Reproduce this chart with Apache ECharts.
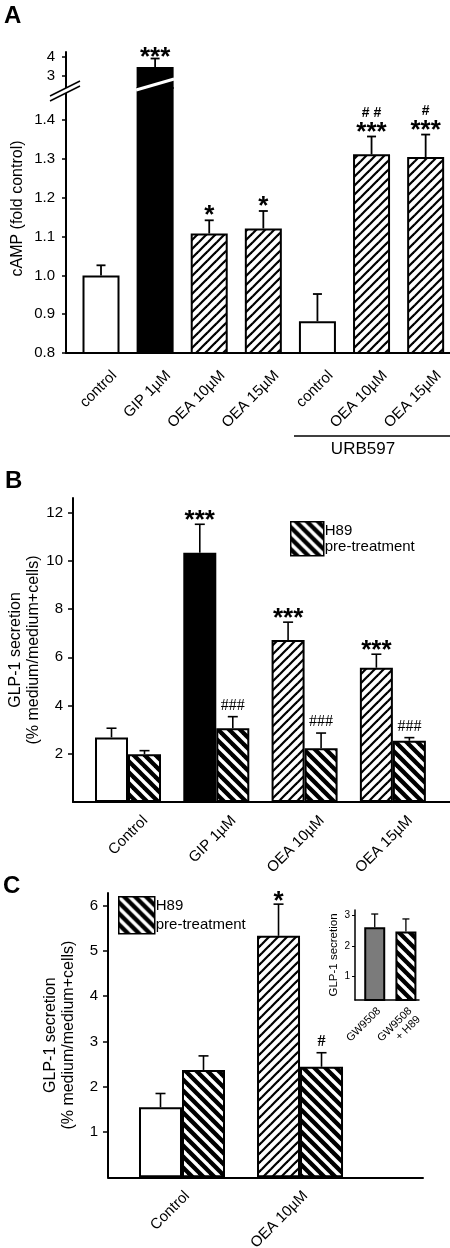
<!DOCTYPE html>
<html><head><meta charset="utf-8">
<script src="https://cdn.jsdelivr.net/npm/echarts@6/dist/echarts.min.js"></script>
<style>html,body{margin:0;padding:0;background:#fff}#c{width:450px;height:1248px}</style>
</head><body><div id="c"></div>
<script>
// ---------- Panel A data ----------
const catsA = ['control', 'GIP 1µM', 'OEA 10µM', 'OEA 15µM', 'control', 'OEA 10µM', 'OEA 15µM'];
const meanA = [1.000, 3.47, 1.108, 1.121, 0.882, 1.312, 1.305];
const errTopA = [1.026, 3.92, 1.142, 1.166, 0.952, 1.358, 1.363];
const starsA = ['', '***', '*', '*', '', '***', '***'];
const hashA = ['', '', '', '', '', '##', '#'];
const ticksAlow = [0.8, 0.9, 1.0, 1.1, 1.2, 1.3, 1.4];
const ticksAhigh = [3, 4];
const groupLabelA = 'URB597';
const titleA = 'cAMP (fold control)';

// ---------- Panel B data ----------
const catsB = ['Control', 'GIP 1µM', 'OEA 10µM', 'OEA 15µM'];
const meanB = [2.68, 10.34, 6.72, 5.57];
const errTopB = [3.06, 11.52, 7.46, 6.13];
const meanBH = [1.98, 3.06, 2.23, 2.54];
const errTopBH = [2.13, 3.54, 2.86, 2.67];
const starsB = ['', '***', '***', '***'];
const hashBH = ['', '###', '###', '###'];
const ticksB = [2, 4, 6, 8, 10, 12];

// ---------- Panel C data ----------
const catsC = ['Control', 'OEA 10µM'];
const meanC = [1.545, 5.33];
const errTopC = [1.85, 6.03];
const meanCH = [2.37, 2.44];
const errTopCH = [2.68, 2.75];
const starsC = ['', '*'];
const hashCH = ['', '#'];
const ticksC = [1, 2, 3, 4, 5, 6];

// ---------- Inset data ----------
const catsI = ['GW9508', 'GW9508\n+ H89'];
const meanI = [2.60, 2.46];
const errTopI = [3.03, 2.87];
const ticksI = [1, 2, 3];

const titleGLP = 'GLP-1 secretion\n(% medium/medium+cells)';
const titleInset = 'GLP-1 secretion';
const legendName = 'H89 pre-treatment';
const legendText = 'H89\npre-treatment';

// ---------- styles ----------
const FONT = 'Liberation Sans, Arial, sans-serif';
const SERIF = 'Liberation Serif, serif';
function stripes(dir, P, w, fg, bg) {
  const c = document.createElement('canvas'); c.width = P; c.height = P;
  const g = c.getContext('2d');
  g.fillStyle = bg; g.fillRect(0, 0, P, P);
  g.strokeStyle = fg; g.lineWidth = w;
  for (let k = -1; k <= 1; k++) {
    g.beginPath();
    if (dir === '/') { g.moveTo(k * P - P, 2 * P); g.lineTo(k * P + 2 * P, -P); }
    else { g.moveTo(k * P - P, -P); g.lineTo(k * P + 2 * P, 2 * P); }
    g.stroke();
  }
  return { image: c, repeat: 'repeat' };
}
const OEA = stripes('/', 9, 2.2, '#000', '#fff');
const H89 = stripes('\\', 11, 3.4, '#fff', '#000');
const FILL = { white: '#fff', black: '#000', oea: OEA, h89: H89, grey: '#7b7b7b' };
const fillA = ['white', 'black', 'oea', 'oea', 'white', 'oea', 'oea'];
const fillB = ['white', 'black', 'oea', 'oea'];
const fillC = ['white', 'oea'];
const fillI = ['grey', 'h89'];

const A_HI_MIN = 2.368, A_HI_MAX = 4.263, A_LO_MIN = 0.8, A_LO_MAX = 1.483;

const barStyle = { borderColor: '#000', borderWidth: 2 };
function barData(means, fills, keep) {
  return means.map((v, i) => ({
    value: [i, keep && !keep(i) ? '-' : v],
    itemStyle: Object.assign({ color: FILL[fills[i]] }, barStyle)
  }));
}

function errSeries(xi, yi, means, tops, offset, cap, lw, labels, show) {
  return {
    type: 'custom', xAxisIndex: xi, yAxisIndex: yi, clip: false, z: 5, silent: true,
    data: means.map((m, i) => [i, m, tops[i]]),
    encode: { x: 0, y: [1, 2] },
    renderItem: function (params, api) {
      const i = params.dataIndex;
      if (show && !show(i)) return;
      const p0 = api.coord([i, means[i]]);
      const p1 = api.coord([i, tops[i]]);
      const x = p0[0] + offset;
      const ch = [
        { type: 'line', shape: { x1: x, y1: p0[1], x2: x, y2: p1[1] }, style: { stroke: '#000', lineWidth: lw } },
        { type: 'line', shape: { x1: x - cap, y1: p1[1], x2: x + cap, y2: p1[1] }, style: { stroke: '#000', lineWidth: lw } }
      ];
      (labels || []).forEach(L => {
        let t = L.arr[i];
        if (t && L.spaced) t = t.split('').join(' ');
        if (t) ch.push({ type: 'text', x: x, y: p1[1] + L.dy, style: {
          text: t, fill: '#000', fontSize: L.size, fontFamily: L.family || FONT, fontWeight: L.weight || 'normal',
          align: 'center', verticalAlign: 'middle' } });
      });
      return { type: 'group', children: ch };
    }
  };
}

const starLab = (arr, dy) => ({ arr, dy, size: 26, weight: 'bold' });

const chart = echarts.init(document.getElementById('c'), null, { renderer: 'canvas' });

const yBase = (extra) => Object.assign({
  type: 'value', splitLine: { show: false },
  axisLine: { show: true, onZero: false, lineStyle: { color: '#000', width: 2 } },
  axisTick: { show: true, length: 4, lineStyle: { color: '#000', width: 1.5 } },
  axisLabel: { color: '#000', fontSize: 15, fontFamily: FONT, margin: 10 },
  nameLocation: 'middle', nameRotate: 90, nameMoveOverlap: false,
  nameTextStyle: { color: '#000', fontSize: 16, fontFamily: FONT }
}, extra);
const xBase = (extra) => Object.assign({
  type: 'value', splitLine: { show: false },
  axisLine: { show: true, onZero: false, lineStyle: { color: '#000', width: 2 } },
  axisTick: { show: false },
  axisLabel: { show: false }
}, extra);
const catLabel = (cats, margin, size) => ({
  show: true, customValues: cats.map((c, i) => i), formatter: v => cats[Math.round(v)],
  rotate: 45, align: 'right', verticalAlign: 'top', margin: margin, color: '#000', fontSize: size, fontFamily: FONT
});

const option = {
  backgroundColor: '#fff',
  animation: false,
  title: [
    { text: 'A', left: 4, top: 4, padding: 0, textStyle: { fontSize: 24, fontWeight: 'bold', fontFamily: FONT, color: '#000' } },
    { text: 'B', left: 5, top: 469, padding: 0, textStyle: { fontSize: 24, fontWeight: 'bold', fontFamily: FONT, color: '#000' } },
    { text: 'C', left: 3, top: 874, padding: 0, textStyle: { fontSize: 24, fontWeight: 'bold', fontFamily: FONT, color: '#000' } }
  ],
  grid: [
    { left: 66, top: 52, width: 384, height: 36, containLabel: false, outerBoundsMode: 'none' },
    { left: 66, top: 88, width: 384, height: 265, containLabel: false, outerBoundsMode: 'none' },
    { left: 73, top: 498, width: 377, height: 304, containLabel: false, outerBoundsMode: 'none' },
    { left: 108, top: 893, width: 315, height: 284.3, containLabel: false, outerBoundsMode: 'none' },
    { left: 355, top: 910, width: 64, height: 90, containLabel: false, outerBoundsMode: 'none' }
  ],
  xAxis: [
    xBase({ gridIndex: 0, min: -0.647, max: 6.45, axisLine: { show: false } }),
    xBase({ gridIndex: 1, min: -0.647, max: 6.45 }),
    xBase({ gridIndex: 2, min: -0.623, max: 3.647 }),
    xBase({ gridIndex: 2, min: -0.759, max: 3.511, position: 'bottom', axisLine: { show: false },
      axisLabel: catLabel(catsB, 11, 15) }),
    xBase({ gridIndex: 3, min: -0.627, max: 2.042, axisLabel: catLabel(catsC, 11, 15) }),
    xBase({ gridIndex: 4, min: -0.633, max: 1.42, axisLine: { show: true, onZero: false, lineStyle: { color: '#000', width: 1.5 } },
      axisLabel: Object.assign(catLabel(catsI, 5, 11), { lineHeight: 12 }) }),
    xBase({ gridIndex: 1, min: -0.795, max: 6.302, position: 'bottom', axisLine: { show: false },
      axisLabel: catLabel(catsA, 15, 15) })
  ],
  yAxis: [
    yBase({ gridIndex: 0, min: A_HI_MIN, max: A_HI_MAX,
      axisTick: { show: true, length: 4, customValues: ticksAhigh, lineStyle: { color: '#000', width: 1.5 } },
      axisLabel: { color: '#000', fontSize: 15, fontFamily: FONT, margin: 11, customValues: ticksAhigh } }),
    yBase({ gridIndex: 1, min: A_LO_MIN, max: A_LO_MAX, name: titleA, nameGap: 40,
      nameTextStyle: { color: '#000', fontSize: 16, fontFamily: FONT, padding: [0, 0, 0, 24] },
      axisTick: { show: true, length: 4, customValues: ticksAlow, lineStyle: { color: '#000', width: 1.5 } },
      axisLabel: { color: '#000', fontSize: 15, fontFamily: FONT, margin: 11, customValues: ticksAlow, formatter: v => v.toFixed(1) } }),
    yBase({ gridIndex: 2, min: 0, max: 12.61, name: titleGLP, nameGap: 30,
      nameTextStyle: { color: '#000', fontSize: 16, fontFamily: FONT, lineHeight: 18 },
      axisTick: { show: true, length: 5, customValues: ticksB, lineStyle: { color: '#000', width: 1.5 } },
      axisLabel: { color: '#000', fontSize: 15, fontFamily: FONT, margin: 10, customValues: ticksB } }),
    yBase({ gridIndex: 3, min: 0, max: 6.276, name: titleGLP, nameGap: 30,
      nameTextStyle: { color: '#000', fontSize: 16, fontFamily: FONT, lineHeight: 18 },
      axisTick: { show: true, length: 5, customValues: ticksC, lineStyle: { color: '#000', width: 1.5 } },
      axisLabel: { color: '#000', fontSize: 15, fontFamily: FONT, margin: 10, customValues: ticksC } }),
    yBase({ gridIndex: 4, min: 0.245, max: 3.16, name: titleInset, nameGap: 15,
      axisLine: { show: true, onZero: false, lineStyle: { color: '#000', width: 1.5 } },
      nameTextStyle: { color: '#000', fontSize: 11.5, fontFamily: FONT },
      axisTick: { show: true, length: 3, customValues: ticksI, lineStyle: { color: '#000', width: 1 } },
      axisLabel: { color: '#000', fontSize: 10, fontFamily: FONT, margin: 5, customValues: ticksI } })
  ],
  legend: [
    { left: 290, top: 521, padding: 0, selectedMode: false, icon: 'rect', itemWidth: 33, itemHeight: 34,
      data: [{ name: legendName, itemStyle: { color: H89, borderColor: '#000', borderWidth: 1.5 } }],
      formatter: () => legendText,
      textStyle: { color: '#000', fontSize: 15, lineHeight: 16, fontFamily: FONT, padding: [0, 0, 0, -4] } },
    { left: 118, top: 896, padding: 0, selectedMode: false, icon: 'rect', itemWidth: 36, itemHeight: 37,
      data: [{ name: legendName, itemStyle: { color: H89, borderColor: '#000', borderWidth: 1.5 } }],
      formatter: () => legendText,
      textStyle: { color: '#000', fontSize: 15, lineHeight: 19, fontFamily: FONT, padding: [0, 0, 0, -4] } }
  ],
  series: [
    // Panel A
    { type: 'bar', name: 'A high', xAxisIndex: 0, yAxisIndex: 0, barWidth: 37, clip: true,
      data: barData(meanA, fillA, i => meanA[i] > A_HI_MIN) },
    { type: 'bar', name: 'A low', xAxisIndex: 1, yAxisIndex: 1, barWidth: 37, clip: true,
      data: barData(meanA, fillA) },
    errSeries(0, 0, meanA, errTopA, 0, 4.5, 1.8, [starLab(starsA, -1)], i => meanA[i] > A_HI_MIN),
    errSeries(1, 1, meanA, errTopA, 0, 4.5, 1.8,
      [starLab(starsA, -4), { arr: hashA, dy: -23, size: 14, weight: 'bold', spaced: true }], i => errTopA[i] < A_LO_MAX),
    // Panel B
    { type: 'bar', name: 'B', xAxisIndex: 2, yAxisIndex: 2, barWidth: 33, barGap: '0%', data: barData(meanB, fillB) },
    { type: 'bar', name: legendName, xAxisIndex: 2, yAxisIndex: 2, barWidth: 33, barGap: '0%',
      itemStyle: Object.assign({ color: H89 }, barStyle), data: meanBH.map((v, i) => [i, v]) },
    errSeries(2, 2, meanB, errTopB, -16.5, 5, 1.6, [starLab(starsB, -3)]),
    errSeries(2, 2, meanBH, errTopBH, 16.5, 5, 1.6, [{ arr: hashBH, dy: -11, size: 16, family: SERIF }]),
    // Panel C
    { type: 'bar', name: 'C', xAxisIndex: 4, yAxisIndex: 3, barWidth: 43, barGap: '0%', data: barData(meanC, fillC) },
    { type: 'bar', name: legendName, xAxisIndex: 4, yAxisIndex: 3, barWidth: 43, barGap: '0%',
      itemStyle: Object.assign({ color: H89 }, barStyle), data: meanCH.map((v, i) => [i, v]) },
    errSeries(4, 3, meanC, errTopC, -21.5, 5, 1.6, [starLab(starsC, -2)]),
    errSeries(4, 3, meanCH, errTopCH, 21.5, 5, 1.6, [{ arr: hashCH, dy: -11, size: 16, weight: 'bold', family: SERIF }]),
    // Inset
    { type: 'bar', name: 'inset', xAxisIndex: 5, yAxisIndex: 4, barWidth: 21, data: barData(meanI, fillI) },
    errSeries(5, 4, meanI, errTopI, 0, 3.5, 1.3, [])
  ]
};
chart.setOption(option);

// Axis-break decoration for panel A, anchored to the axes
const ax = chart.convertToPixel({ xAxisIndex: 1 }, -0.647);
const by = chart.convertToPixel({ yAxisIndex: 1 }, A_LO_MAX);
const gx = chart.convertToPixel({ xAxisIndex: 1 }, 1);
chart.setOption({
  graphic: [
    { type: 'polygon', z: 100, shape: { points: [[ax - 16, by + 8], [ax + 14, by - 7], [ax + 14, by - 2], [ax - 16, by + 13]] }, style: { fill: '#fff' } },
    { type: 'line', z: 101, shape: { x1: ax - 16, y1: by + 8, x2: ax + 14, y2: by - 7 }, style: { stroke: '#000', lineWidth: 1.5 } },
    { type: 'line', z: 101, shape: { x1: ax - 16, y1: by + 13, x2: ax + 14, y2: by - 2 }, style: { stroke: '#000', lineWidth: 1.5 } },
    { type: 'line', z: 101, shape: { x1: gx - 19, y1: by + 2, x2: gx + 19, y2: by - 9 }, style: { stroke: '#fff', lineWidth: 3 } },
    { type: 'line', z: 101, shape: { x1: 294, y1: 436, x2: 450, y2: 436 }, style: { stroke: '#000', lineWidth: 1.5 } },
    { type: 'text', z: 101, x: 363, y: 449, style: { text: groupLabelA, fill: '#000', fontSize: 17, fontFamily: FONT, align: 'center', verticalAlign: 'middle' } }
  ]
});
</script></body></html>
